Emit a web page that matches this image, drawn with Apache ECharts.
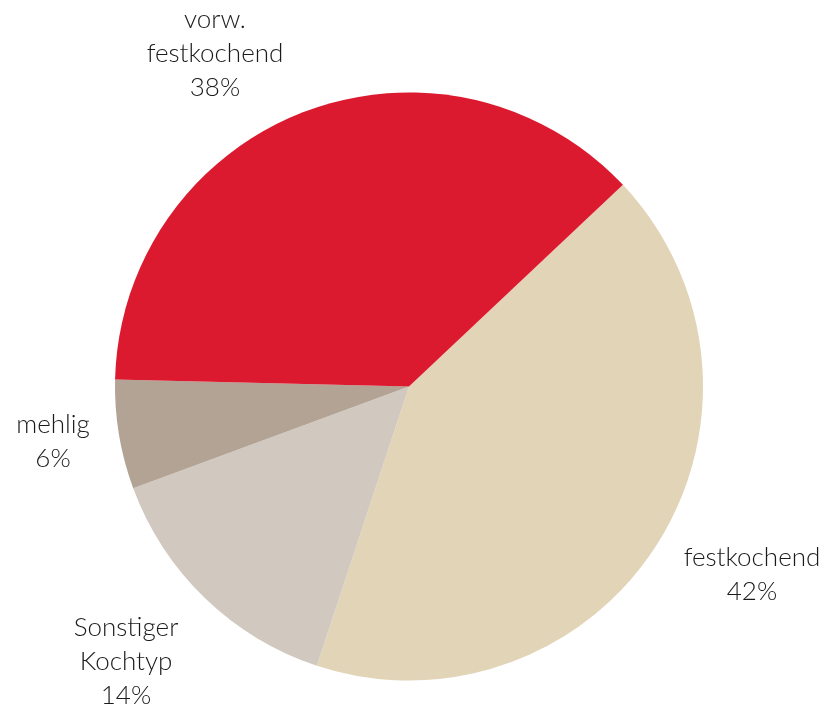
<!DOCTYPE html>
<html>
<head>
<meta charset="utf-8">
<script src="https://cdn.jsdelivr.net/npm/echarts@6/dist/echarts.min.js"></script>
<style>
html,body{margin:0;padding:0;background:#fff;}
#main{width:832px;height:712px;}
</style>
</head>
<body>
<div id="main"></div>
<script>
const categories = ['festkochend', 'Sonstiger\nKochtyp', 'mehlig', 'vorw.\nfestkochend'];
const values = [42.1, 14.3, 6.0, 37.6];
const colors = ['#E2D4B7', '#D1C8BF', '#B2A394', '#DC1A2F'];
// label block centres (layout only)
const labelPos = [[752, 575], [126, 662], [53, 442], [215, 54]];

const chart = echarts.init(document.getElementById('main'));
chart.setOption({
  animation: false,
  series: [{
    type: 'pie',
    center: [409, 386.5],
    radius: 294,
    startAngle: 43.3,
    clockwise: true,
    percentPrecision: 0,
    data: categories.map((c, i) => ({ name: c, value: values[i], itemStyle: { color: colors[i] } })),
    label: {
      show: true,
      position: 'outside',
      formatter: '{b}\n{d}%',
      fontFamily: 'Lato',
      fontWeight: 300,
      fontSize: 26,
      lineHeight: 34,
      color: '#1a1a1a',
      align: 'center',
      overflow: 'none',
      width: 300
    },
    labelLine: { show: false, length: 30, length2: 0 },
    labelLayout: function (p) {
      const pos = labelPos[p.dataIndex];
      return { x: pos[0], y: pos[1], align: 'center', verticalAlign: 'middle' };
    },
    emphasis: { disabled: true }
  }]
});
</script>
</body>
</html>
